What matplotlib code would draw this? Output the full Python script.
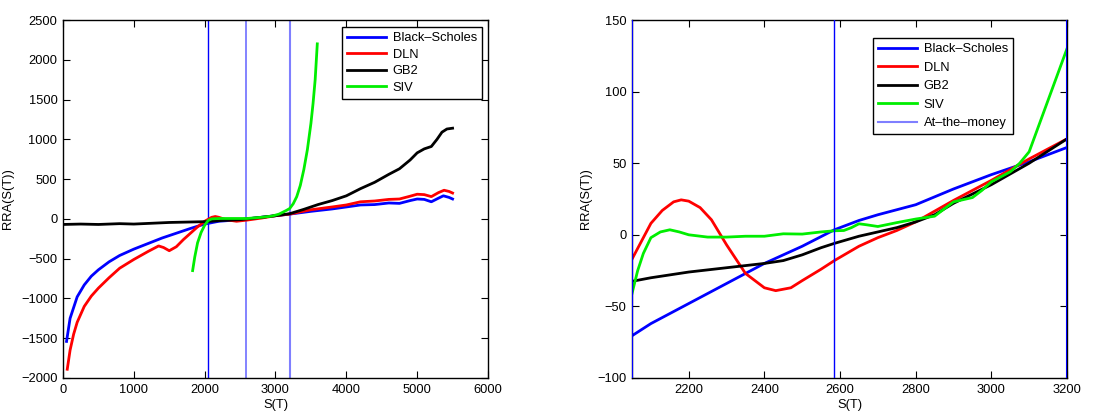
import matplotlib
matplotlib.use("Agg")
import matplotlib.pyplot as plt

plt.rcParams["font.family"] = ["Liberation Sans", "DejaVu Sans"]
plt.rcParams["font.size"] = 9

# ---- left panel: full range ----
bs_x = [50, 100, 200, 300, 400, 500, 650, 800, 1000, 1200, 1400, 1600, 1800, 2000, 2200,
        2500, 2800, 3000, 3200, 3500, 3800, 4000, 4200, 4400, 4600, 4750, 4900, 5000,
        5100, 5200, 5300, 5370, 5450, 5500]
bs_y = [-1540, -1250, -980, -830, -720, -640, -540, -460, -380, -310, -240, -180, -120, -65,
        -30, -10, 20, 40, 60, 95, 125, 150, 175, 180, 200, 195, 230, 250, 245, 215, 260,
        290, 270, 250]

dln_x = [60, 100, 150, 200, 300, 400, 500, 650, 800, 1000, 1200, 1350, 1420, 1500, 1600,
         1700, 1800, 1900, 2000, 2100, 2150, 2200, 2300, 2450, 2600, 2800, 3000, 3200,
         3500, 3800, 4000, 4200, 4400, 4600, 4750, 4900, 5000, 5100, 5200, 5300, 5380,
         5450, 5500]
dln_y = [-1890, -1650, -1450, -1300, -1100, -970, -870, -740, -620, -510, -410, -340, -360,
         -400, -350, -260, -180, -100, -30, 20, 30, 20, -10, -30, -15, 10, 40, 60, 115, 150,
         175, 215, 225, 245, 250, 285, 310, 305, 280, 330, 360, 345, 325]

gb2_x = [0, 250, 500, 800, 1000, 1250, 1500, 1750, 2000, 2250, 2500, 2750, 3000, 3200,
         3400, 3600, 3800, 4000, 4200, 4400, 4600, 4750, 4900, 5000, 5100, 5200, 5280,
         5350, 5420, 5500]
gb2_y = [-70, -65, -70, -60, -65, -55, -45, -40, -35, -20, -10, 15, 40, 65, 120, 180, 230,
         290, 380, 460, 560, 630, 740, 830, 880, 910, 1000, 1090, 1130, 1140]

siv_x = [1830, 1860, 1900, 1950, 2000, 2050, 2100, 2200, 2400, 2600, 2800, 2950, 3050,
         3150, 3200, 3250, 3300, 3350, 3400, 3450, 3500, 3530, 3560, 3590]
siv_y = [-650, -480, -300, -170, -80, -20, 0, 5, 5, 5, 20, 35, 60, 105, 130, 190, 280,
         420, 620, 870, 1200, 1450, 1750, 2200]

vlines_left = [2050, 2585, 3200]

# ---- right panel: zoom around the money ----
zbs_x = [2050, 2100, 2200, 2300, 2400, 2500, 2585, 2650, 2700, 2800, 2900, 3000, 3100, 3200]
zbs_y = [-70.5, -62, -48, -34, -20, -8, 3.5, 10, 14, 21, 32, 42, 51, 61]

zdln_x = [2050, 2080, 2100, 2130, 2160, 2180, 2200, 2230, 2260, 2300, 2350, 2400, 2430,
          2470, 2500, 2550, 2585, 2650, 2700, 2750, 2800, 2900, 3000, 3100, 3200]
zdln_y = [-17, -2, 8, 17, 23, 24.4, 23.5, 19, 10.5, -7, -27, -37, -39, -37, -32, -24, -18,
          -8, -2, 3, 9, 24, 38, 53, 67]

zgb2_x = [2050, 2100, 2200, 2300, 2400, 2450, 2500, 2550, 2585, 2650, 2700, 2750, 2800,
          2850, 2900, 3000, 3100, 3200]
zgb2_y = [-32.5, -30, -26, -23, -20, -18, -14, -9, -6, -1, 2, 5, 9, 14, 22, 35, 50, 67]

zsiv_x = [2050, 2065, 2080, 2100, 2125, 2150, 2175, 2200, 2250, 2300, 2350, 2400, 2450,
          2500, 2550, 2585, 2610, 2630, 2650, 2670, 2700, 2750, 2800, 2850, 2875, 2900,
          2950, 2975, 3000, 3050, 3075, 3100, 3150, 3200]
zsiv_y = [-41, -25, -13, -2, 2, 3.5, 2, 0, -1.6, -1.6, -1, -1, 0.7, 0.5, 2, 2.8, 3, 5,
          7.7, 7, 5.8, 8.5, 11, 13, 18, 23, 26, 31, 37, 44, 50, 58, 94, 130]

vlines_right = [2050, 2585, 3200]

labels = ["Black\u2013Scholes", "DLN", "GB2", "SIV"]
colors = ["#0000ff", "#ff0000", "#000000", "#00ee00"]


def style_axes(ax):
    ax.tick_params(direction="in", top=True, right=True, length=5, width=0.8,
                   labelsize=9.3, pad=4)
    for sp in ax.spines.values():
        sp.set_linewidth(1.0)
    ax.set_xlabel("S(T)", fontsize=9.3)
    ax.set_ylabel("RRA(S(T))", fontsize=9.3)
    ax.xaxis.set_label_coords(0.5, -0.058)


def add_legend(ax, anchor, spacing):
    leg = ax.legend(loc="upper right", bbox_to_anchor=anchor, borderaxespad=0,
                    fancybox=False, edgecolor="black", framealpha=1, fontsize=9.3,
                    handlelength=3.0, borderpad=0.4, labelspacing=spacing,
                    handletextpad=0.5)
    leg.get_frame().set_linewidth(1.0)


def main():
    fig = plt.figure(figsize=(11.07, 4.12), dpi=100)
    ax1 = fig.add_axes([63 / 1107, 34 / 412, 425 / 1107, 358 / 412])
    ax2 = fig.add_axes([632 / 1107, 34 / 412, 435 / 1107, 358 / 412])

    # left
    ax1.axvline(vlines_left[0], color="#0000ff", lw=1.0, zorder=1)
    ax1.axvline(vlines_left[1], color="#6e6eff", lw=1.2, zorder=1)
    ax1.axvline(vlines_left[2], color="#7f7fff", lw=1.5, zorder=1)
    series = [(bs_x, bs_y), (dln_x, dln_y), (gb2_x, gb2_y), (siv_x, siv_y)]
    for (x, y), lab, c in zip(series, labels, colors):
        ax1.plot(x, y, color=c, lw=2.0, label=lab, zorder=2)
    ax1.set_xlim(0, 6000)
    ax1.set_ylim(-2000, 2500)
    ax1.set_xticks(range(0, 6001, 1000))
    ax1.set_yticks(range(-2000, 2501, 500))
    style_axes(ax1)
    ax1.yaxis.set_label_coords(-0.115, 0.5)
    add_legend(ax1, (0.986, 0.98), 0.34)

    # right
    zseries = [(zbs_x, zbs_y), (zdln_x, zdln_y), (zgb2_x, zgb2_y), (zsiv_x, zsiv_y)]
    for (x, y), lab, c in zip(zseries, labels, colors):
        ax2.plot(x, y, color=c, lw=2.0, label=lab, zorder=2)
    ax2.axvline(vlines_right[1], color="#0000ff", lw=1.0, zorder=3)
    ax2.plot([], [], color="#7f7fff", lw=1.5, label="At\u2013the\u2013money")
    for v in (vlines_right[0], vlines_right[2]):
        ax2.axvline(v, color="#0000ff", lw=1.5, zorder=3)
    ax2.set_xlim(2050, 3200)
    ax2.set_ylim(-100, 150)
    ax2.set_xticks(range(2200, 3201, 200))
    ax2.set_yticks(range(-100, 151, 50))
    style_axes(ax2)
    ax2.yaxis.set_label_coords(-0.092, 0.5)
    add_legend(ax2, (0.876, 0.95), 0.5)

    fig.savefig("out.png", dpi=100)


if __name__ == "__main__":
    main()
